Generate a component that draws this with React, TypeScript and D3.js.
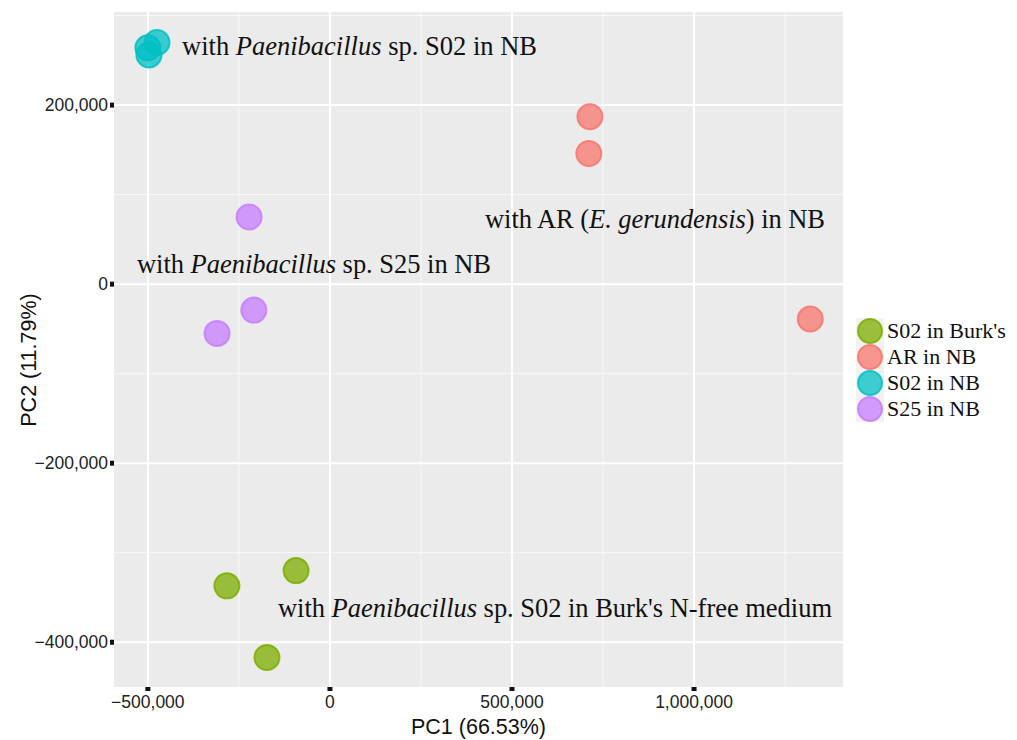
import React from "react";
import * as d3 from "d3";

const groups = ["S02 in Burk's", "AR in NB", "S02 in NB", "S25 in NB"];
const groupColors = ["#7CAE00", "#F8766D", "#00BFC4", "#C77CFF"];

const burkX = [-93000, -283000, -173000];
const burkY = [-320000, -337000, -417000];
const arX = [714000, 711000, 1319000];
const arY = [187000, 146000, -39000];
const s02X = [-500000, -475000, -497000];
const s02Y = [264000, 270000, 256000];
const s25X = [-222000, -209000, -310000];
const s25Y = [75000, -29000, -55000];

const seriesX = [burkX, arX, s02X, s25X];
const seriesY = [burkY, arY, s02Y, s25Y];

const xTicks = [-500000, 0, 500000, 1000000];
const yTicks = [-400000, -200000, 0, 200000];
const xMinor = [-250000, 250000, 750000, 1250000];
const yMinor = [-300000, -100000, 100000, 300000];

const xDomain = [-593000, 1409000];
const yDomain = [-450000, 304000];

const W = 1017, H = 740;
const L = 114, R = 843, T = 12, B = 687;

export default function App() {
  const x = d3.scaleLinear().domain(xDomain).range([L, R]);
  const y = d3.scaleLinear().domain(yDomain).range([B, T]);
  const fmt = (v: number) => (v < 0 ? "\u2212" : "") + d3.format(",")(Math.abs(v));
  const serif = "'Liberation Serif', 'Times New Roman', serif";
  const sans = "'Liberation Sans', Arial, sans-serif";
  const annSize = 26.5;

  return (
    <svg width={W} height={H} style={{ position: "absolute", left: 0, top: 0, background: "#fff" }}>
      <rect x={L} y={T} width={R - L} height={B - T} fill="#EBEBEB" />
      {xMinor.map((v) => (
        <line key={"xm" + v} x1={x(v)} x2={x(v)} y1={T} y2={B} stroke="#fff" strokeWidth={1} opacity={0.7} />
      ))}
      {yMinor.map((v) => (
        <line key={"ym" + v} x1={L} x2={R} y1={y(v)} y2={y(v)} stroke="#fff" strokeWidth={1} opacity={0.7} />
      ))}
      {xTicks.map((v) => (
        <line key={"xg" + v} x1={x(v)} x2={x(v)} y1={T} y2={B} stroke="#fff" strokeWidth={2} />
      ))}
      {yTicks.map((v) => (
        <line key={"yg" + v} x1={L} x2={R} y1={y(v)} y2={y(v)} stroke="#fff" strokeWidth={2} />
      ))}
      {xTicks.map((v) => (
        <g key={"xt" + v}>
          <rect x={x(v) - 2.5} y={B} width={5} height={4} fill="#111" />
          <text x={x(v)} y={708} textAnchor="middle" fontFamily={sans} fontSize={17.5} fill="#222">
            {fmt(v)}
          </text>
        </g>
      ))}
      {yTicks.map((v) => (
        <g key={"yt" + v}>
          <rect x={L - 4} y={y(v) - 2.5} width={4} height={5} fill="#111" />
          <text x={L - 6} y={y(v) + 6} textAnchor="end" fontFamily={sans} fontSize={17.5} fill="#222">
            {fmt(v)}
          </text>
        </g>
      ))}
      <text x={(L + R) / 2} y={734} textAnchor="middle" fontFamily={sans} fontSize={21.5} fill="#111">
        PC1 (66.53%)
      </text>
      <text
        transform={`translate(36,360) rotate(-90)`}
        textAnchor="middle"
        fontFamily={sans}
        fontSize={21.5}
        fill="#111"
      >
        PC2 (11.79%)
      </text>
      {seriesX.map((xs, gi) =>
        xs.map((xv, i) => (
          <circle
            key={gi + "-" + i}
            cx={x(xv)}
            cy={y(seriesY[gi][i])}
            r={12.5}
            fill={groupColors[gi]}
            fillOpacity={0.75}
            stroke={groupColors[gi]}
            strokeOpacity={0.85}
            strokeWidth={2}
          />
        ))
      )}
      <text x={182} y={55} fontFamily={serif} fontSize={annSize} fill="#111" textLength={355} lengthAdjust="spacing">
        with <tspan fontStyle="italic">Paenibacillus</tspan> sp. S02 in NB
      </text>
      <text x={485} y={228} fontFamily={serif} fontSize={annSize} fill="#111" textLength={340} lengthAdjust="spacing">
        with AR (<tspan fontStyle="italic">E. gerundensis</tspan>) in NB
      </text>
      <text x={137} y={273} fontFamily={serif} fontSize={annSize} fill="#111" textLength={354} lengthAdjust="spacing">
        with <tspan fontStyle="italic">Paenibacillus</tspan> sp. S25 in NB
      </text>
      <text x={278} y={617} fontFamily={serif} fontSize={annSize} fill="#111" textLength={554} lengthAdjust="spacing">
        with <tspan fontStyle="italic">Paenibacillus</tspan> sp. S02 in Burk's N-free medium
      </text>
      {groups.map((g, i) => {
        const cy = 331 + i * 26;
        return (
          <g key={g}>
            <rect x={856} y={cy - 13} width={28} height={26} fill="#F2F2F2" />
            <circle cx={870} cy={cy} r={12} fill={groupColors[i]} fillOpacity={0.75} stroke={groupColors[i]} strokeOpacity={0.85} strokeWidth={2} />
            <text x={887} y={cy + 7} fontFamily={serif} fontSize={22} fill="#111">
              {g}
            </text>
          </g>
        );
      })}
    </svg>
  );
}
